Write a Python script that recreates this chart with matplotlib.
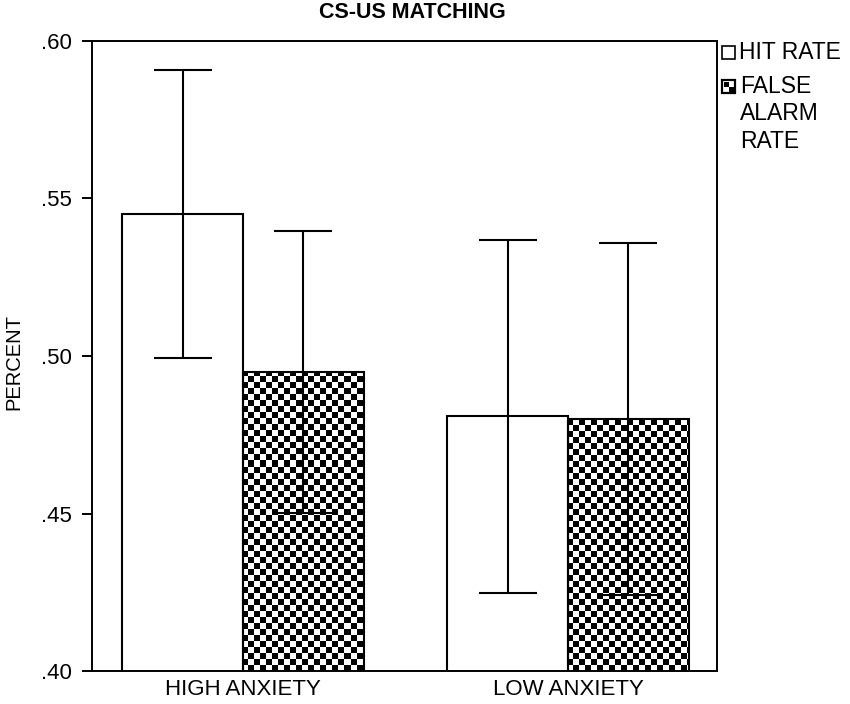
import numpy as np
import matplotlib
matplotlib.use("Agg")
import matplotlib.pyplot as plt
from matplotlib.patches import Rectangle

plt.rcParams['font.family'] = ['Liberation Sans', 'DejaVu Sans']

# values
groups = ['HIGH ANXIETY', 'LOW ANXIETY']
hit_rate = [0.545, 0.481]
hit_lo = [0.4995, 0.4249]
hit_hi = [0.5907, 0.5368]
fa_rate = [0.495, 0.480]
fa_lo = [0.4503, 0.4241]
fa_hi = [0.5397, 0.5360]
yticks = [0.40, 0.45, 0.50, 0.55, 0.60]
ytick_labels = ['.40', '.45', '.50', '.55', '.60']

W, H = 850, 704
fig = plt.figure(figsize=(W / 100, H / 100), dpi=100)
ax = fig.add_axes([92 / W, 1 - 671 / H, 625 / W, 630 / H])

x = np.arange(len(groups))
width = 0.372
xlim = (-0.4646, 1.4585)
ylim = (0.40, 0.60)

hit_bars = ax.bar(x - width / 2, hit_rate, width, color='white',
                  edgecolor='black', linewidth=1.5, zorder=2)
fa_bars = ax.bar(x + width / 2, fa_rate, width, color='none',
                 edgecolor='black', linewidth=1.5, zorder=2)

# checkerboard fill, clipped to each false alarm bar
nx, ny = 104, 105
checker = (np.add.outer(np.arange(ny), np.arange(nx)) % 2).astype(float)
for b in fa_bars:
    im = ax.imshow(checker, cmap='gray', extent=[xlim[0], xlim[1], ylim[0], ylim[1]],
                   aspect='auto', interpolation='nearest', zorder=1.5, origin='lower')
    im.set_clip_path(b)

# error bars
hit_err = [np.array(hit_rate) - np.array(hit_lo), np.array(hit_hi) - np.array(hit_rate)]
fa_err = [np.array(fa_rate) - np.array(fa_lo), np.array(fa_hi) - np.array(fa_rate)]
ax.errorbar(x - width / 2, hit_rate, yerr=hit_err, fmt='none', ecolor='black',
            elinewidth=1.5, capsize=21, capthick=1.5, zorder=3)
ax.errorbar(x + width / 2, fa_rate, yerr=fa_err, fmt='none', ecolor='black',
            elinewidth=1.5, capsize=21, capthick=1.5, zorder=3)

ax.set_xlim(*xlim)
ax.set_ylim(*ylim)
ax.set_yticks(yticks)
ax.set_yticklabels(ytick_labels)
ax.set_xticks(x)
ax.set_xticklabels(groups)
ax.tick_params(axis='y', length=7.2, width=1.4, pad=7, labelsize=16)
ax.tick_params(axis='x', length=0, pad=6, labelsize=16)
for s in ax.spines.values():
    s.set_linewidth(1.4)

ax.set_ylabel('PERCENT', fontsize=14.5, va='center')
ax.yaxis.set_label_coords((14 - 92) / 625, 1 - (362 - 41) / 630)

fig.text(412 / W, 1 - 13 / H, 'CS-US MATCHING', ha='center', va='center',
         fontsize=15.5, fontweight='bold')

# legend drawn by hand to the right of the plot
def fx(px):
    return px / W

def fy(py):
    return 1 - py / H

fig.add_artist(Rectangle((fx(722), fy(59)), 13 / W, 13 / H, transform=fig.transFigure,
                         facecolor='white', edgecolor='black', linewidth=1.2))
fig.add_artist(Rectangle((fx(722), fy(93)), 13 / W, 13 / H, transform=fig.transFigure,
                         facecolor='white', edgecolor='black', linewidth=1.6))
fig.add_artist(Rectangle((fx(723.5), fy(86.5)), 5 / W, 5 / H, transform=fig.transFigure,
                         facecolor='black', edgecolor='none'))
fig.add_artist(Rectangle((fx(728.5), fy(91.5)), 5 / W, 5 / H, transform=fig.transFigure,
                         facecolor='black', edgecolor='none'))
fig.text(fx(739), fy(59), 'HIT RATE', ha='left', va='baseline', fontsize=16.5)
for i, line in enumerate(['FALSE', 'ALARM', 'RATE']):
    fig.text(fx(740), fy(93 + 27.5 * i), line, ha='left', va='baseline', fontsize=16.5)

fig.savefig('out.png', dpi=100)
